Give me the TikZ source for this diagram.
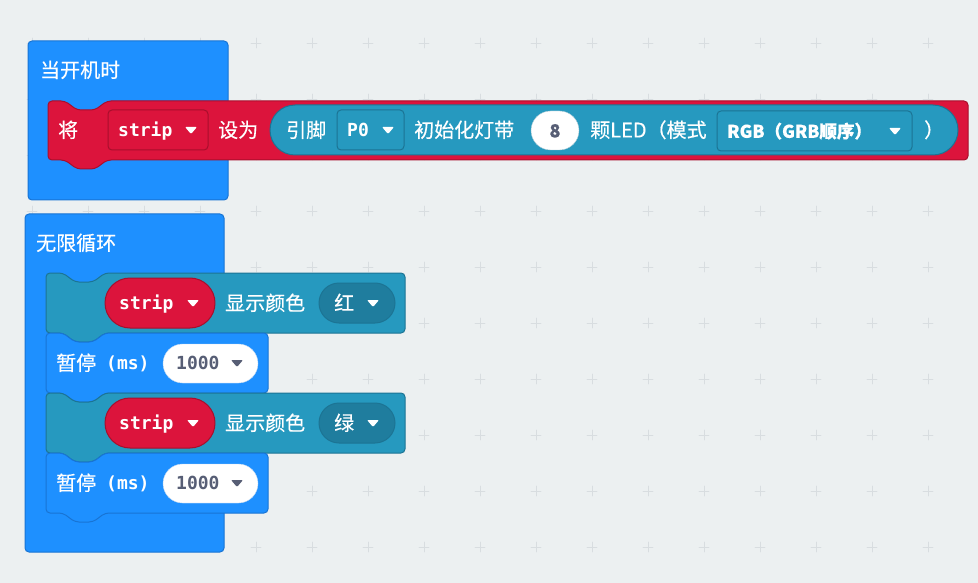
\documentclass[tikz,border=0pt]{standalone}
\usepackage{fontspec}
\newfontfamily\cjk{Noto Sans CJK SC}[FakeBold=0.4]
\newfontfamily\monof{DejaVu Sans Mono}
\definecolor{bgcol}{RGB}{236,240,241}
\definecolor{gridcol}{RGB}{216,221,224}
\definecolor{evtblue}{RGB}{30,144,255}
\definecolor{evtedge}{RGB}{24,116,212}
\definecolor{neored}{RGB}{220,20,60}
\definecolor{neoedge}{RGB}{168,14,44}
\definecolor{neoteal}{RGB}{38,153,191}
\definecolor{tealedge}{RGB}{28,116,148}
\definecolor{darkteal}{RGB}{31,125,158}
\definecolor{numtext}{RGB}{87,94,117}
% statement block: style, left, top, right, bottom
\newcommand{\stackblock}[5]{%
  \draw[#1, rounded corners=4] (#2,#3+12) -- (#2,#3) -- (#2+17,#3) -- (#2+29,#3+9)
    -- (#2+47,#3+9) -- (#2+59,#3) -- (#4,#3) -- (#4,#5) -- (#2+59,#5)
    -- (#2+47,#5+9) -- (#2+29,#5+9) -- (#2+17,#5) -- (#2,#5) -- cycle;}
% dropdown arrow: colour, x, y
\newcommand{\ddtri}[3]{\fill[#1, rounded corners=1] (#2-6,#3-3) -- (#2+6,#3-3) -- (#2,#3+4) -- cycle;}
\begin{document}
\begin{tikzpicture}[x=1pt, y=-1pt, line join=round, line cap=round]
				\tikzset{outerblock/.style={fill=evtblue, draw=evtedge, line width=1pt, rounded corners=4},
					blueblock/.style={fill=evtblue, draw=evtedge, line width=1pt},
					redblock/.style={fill=neored, draw=neoedge, line width=1pt},
					tealblock/.style={fill=neoteal, draw=tealedge, line width=1pt},
					redbox/.style={fill=neored, draw=neoedge, line width=1pt, rounded corners=4},
					tealbox/.style={fill=neoteal, draw=tealedge, line width=1pt, rounded corners=4},
					gridmark/.style={draw=gridcol, line width=0.8pt},
					cjktxt/.style={anchor=base west, inner sep=0, text=white, yshift=-7.4pt,
						font=\cjk\fontsize{20}{20}\selectfont},
					monotxt/.style={anchor=base west, inner sep=0, text=white, yshift=-6.5pt,
						font=\monof\bfseries\fontsize{18}{18}\selectfont}}
				\useasboundingbox (0,0) rectangle (978,583);
				\fill[bgcol] (0,0) rectangle (978,583);
				\foreach \gx in {32,88,...,928}
				\foreach \gy in {43,99,...,547}
				\draw[gridmark] (\gx-5,\gy) -- (\gx+5,\gy) (\gx,\gy-5) -- (\gx,\gy+5);
				%
				\draw[outerblock] (28,41) rectangle (228,200);
				\node[cjktxt] (start) at (40,70) {当开机时};
				\stackblock{redblock}{48}{101}{968}{160}
				\node[cjktxt] (setlbl) at (58,130) {将};
				\draw[redbox] (108,110) rectangle (208,150);
				\node[monotxt] (stripA) at (118,130) {strip};
				\ddtri{white}{191}{130}
				\node[cjktxt] (asto) at (218,130) {设为};
				\draw[tealblock, rounded corners=25] (270,105) rectangle (958,155);
				\node[cjktxt] (pinlbl) at (286,130) {引脚};
				\draw[tealbox] (337,110) rectangle (404,150);
				\node[monotxt] (pin) at (347,130) {P0};
				\ddtri{white}{388}{130}
				\node[cjktxt] (initlbl) at (414,130) {初始化灯带};
				\draw[fill=white, draw=tealedge!40, rounded corners=19.5] (531,111) rectangle (579,150);
				\node[cjktxt, anchor=base, text=numtext, font=\cjk\bfseries\fontsize{18}{18}\selectfont] (leds) at (555,130) {8};
				\node[cjktxt] (modelbl) at (590,130) {颗LED（模式};
				\draw[tealbox] (717,111) rectangle (912,151);
				\node[cjktxt, yshift=0.6pt, font=\cjk\bfseries\fontsize{17.5}{17.5}\selectfont] (mode) at (727,131) {RGB（GRB顺序）};
				\ddtri{white}{895}{131}
				\node[cjktxt] (close) at (924,130) {）};
				%
				\draw[outerblock] (25,214) rectangle (224,552);
				\node[cjktxt] (forever) at (36,243) {无限循环};
				\foreach \ry/\col [count=\i] in {273/红, 393/绿} {
					\stackblock{tealblock}{46}{\ry}{405}{\ry+60}
					\draw[redblock, rounded corners=25] (105,\ry+5) rectangle (215,\ry+55);
					\node[monotxt] (strip\i) at (119,\ry+30) {strip};
					\ddtri{white}{193}{\ry+30}
					\node[cjktxt] (show\i) at (225,\ry+30) {显示颜色};
					\draw[fill=darkteal, draw=tealedge, line width=1pt, rounded corners=20] (319,\ry+10) rectangle (395,\ry+50);
					\node[cjktxt] (colour\i) at (334,\ry+30) {\col};
					\ddtri{white}{373}{\ry+30}
					\stackblock{blueblock}{46}{\ry+60}{268}{\ry+120}
					\node[cjktxt] (pause\i) at (56,\ry+90) {暂停};
					\node[monotxt] (ms\i) at (106,\ry+90) {(ms)};
					\draw[fill=white, draw=evtedge!30, rounded corners=19.5] (163,\ry+71) rectangle (258,\ry+110);
					\node[monotxt, text=numtext] (time\i) at (176,\ry+90) {1000};
					\ddtri{numtext}{237}{\ry+90}
				}
\end{tikzpicture}
\end{document}
